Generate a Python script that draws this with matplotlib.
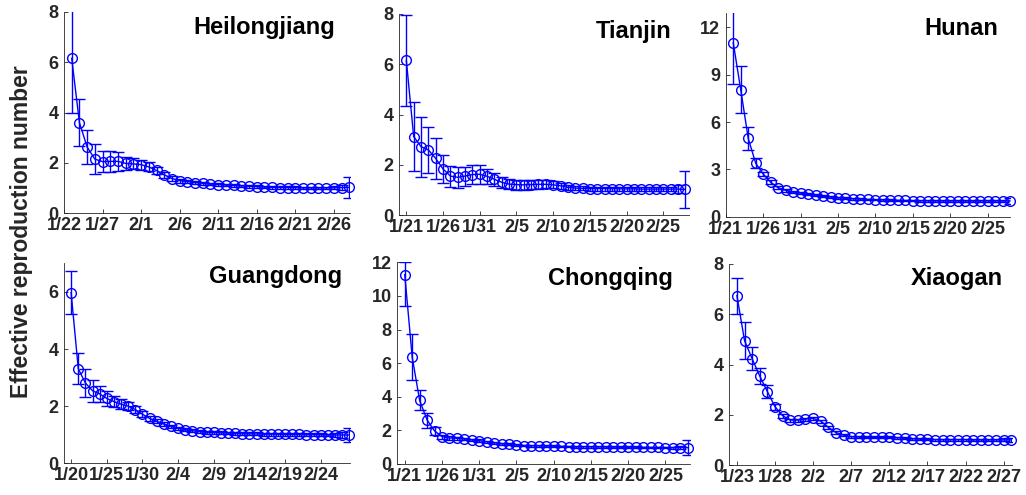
"""
六省市有效再生数 Rt 折线图（带误差棒）
"""
import numpy as np
import matplotlib
matplotlib.use('Agg')
import matplotlib.pyplot as plt

plt.rcParams['font.family'] = ['Liberation Sans', 'DejaVu Sans']
plt.rcParams['font.weight'] = 'bold'

# ====================== 1. 数据 ======================
# 黑龙江 1/23 起
hlj_r = [6.15, 3.60, 2.63, 2.15, 2.05, 2.06, 2.06, 1.98, 1.96, 1.93,
         1.84, 1.70, 1.53, 1.38, 1.30, 1.26, 1.22, 1.19, 1.16, 1.14,
         1.12, 1.11, 1.09, 1.07, 1.06, 1.04, 1.03, 1.02, 1.02, 1.02,
         1.01, 1.01, 1.01, 1.01, 1.01, 1.02, 1.03]
hlj_err = [2.15, 0.94, 0.66, 0.60, 0.43, 0.42, 0.38, 0.25, 0.22, 0.20,
           0.18, 0.15, 0.12, 0.10, 0.08, 0.07, 0.06, 0.06, 0.05, 0.05,
           0.05, 0.05, 0.05, 0.05, 0.05, 0.05, 0.05, 0.05, 0.05, 0.05,
           0.05, 0.05, 0.05, 0.05, 0.06, 0.10, 0.42]
hlj_ticks = ['1/22', '1/27', '2/1', '2/6', '2/11', '2/16', '2/21', '2/26']

# 天津 1/21 起
tj_r = [6.15, 3.12, 2.72, 2.59, 2.25, 1.83, 1.55, 1.50, 1.55, 1.61,
        1.62, 1.54, 1.42, 1.30, 1.23, 1.21, 1.20, 1.21, 1.22, 1.22,
        1.20, 1.16, 1.10, 1.07, 1.06, 1.05, 1.05, 1.05, 1.05, 1.04,
        1.04, 1.04, 1.03, 1.03, 1.03, 1.03, 1.03, 1.03, 1.02]
tj_err = [1.80, 1.38, 1.20, 0.90, 0.80, 0.57, 0.42, 0.42, 0.38, 0.38,
          0.37, 0.30, 0.25, 0.22, 0.20, 0.20, 0.19, 0.18, 0.17, 0.16,
          0.14, 0.12, 0.10, 0.09, 0.08, 0.08, 0.08, 0.08, 0.08, 0.08,
          0.08, 0.08, 0.08, 0.08, 0.08, 0.08, 0.08, 0.15, 0.75]
tj_ticks = ['1/21', '1/26', '1/31', '2/5', '2/10', '2/15', '2/20', '2/25']

# 湖南 1/22 起
hn_r = [11.02, 8.05, 4.96, 3.39, 2.71, 2.18, 1.84, 1.67, 1.57, 1.50,
        1.42, 1.36, 1.29, 1.25, 1.21, 1.17, 1.14, 1.12, 1.10, 1.08,
        1.07, 1.05, 1.04, 1.03, 1.02, 1.01, 1.01, 1.00, 1.00, 1.00,
        1.00, 1.00, 1.00, 1.00, 1.00, 1.00, 1.00, 1.00]
hn_err = [2.60, 1.50, 0.76, 0.32, 0.15, 0.12, 0.10, 0.09, 0.08, 0.08,
          0.07, 0.07, 0.06, 0.06, 0.06, 0.05, 0.05, 0.05, 0.05, 0.05,
          0.05, 0.05, 0.05, 0.05, 0.05, 0.05, 0.05, 0.05, 0.05, 0.05,
          0.05, 0.05, 0.05, 0.05, 0.05, 0.06, 0.08, 0.20]
hn_ticks = ['1/21', '1/26', '1/31', '2/5', '2/10', '2/15', '2/20', '2/25']

# 广东 1/20 起
gd_r = [5.97, 3.31, 2.81, 2.54, 2.43, 2.27, 2.16, 2.07, 2.00, 1.88,
        1.72, 1.57, 1.47, 1.37, 1.30, 1.23, 1.17, 1.14, 1.11, 1.08,
        1.08, 1.07, 1.06, 1.05, 1.04, 1.03, 1.03, 1.02, 1.02, 1.02,
        1.01, 1.01, 1.01, 1.00, 1.00, 1.00, 0.99, 0.99, 0.99, 0.99]
gd_err = [0.76, 0.55, 0.50, 0.38, 0.28, 0.25, 0.19, 0.17, 0.15, 0.12,
          0.10, 0.08, 0.07, 0.06, 0.05, 0.05, 0.05, 0.05, 0.05, 0.05,
          0.05, 0.05, 0.05, 0.05, 0.05, 0.05, 0.05, 0.05, 0.05, 0.05,
          0.05, 0.05, 0.05, 0.05, 0.05, 0.05, 0.05, 0.06, 0.10, 0.25]
gd_ticks = ['1/20', '1/25', '1/30', '2/4', '2/9', '2/14', '2/19', '2/24']

# 重庆 1/21 起（首点误差不对称）
cq_r = [11.27, 6.36, 3.78, 2.62, 1.97, 1.63, 1.55, 1.53, 1.49, 1.43,
        1.39, 1.33, 1.27, 1.21, 1.17, 1.13, 1.10, 1.09, 1.08, 1.07,
        1.06, 1.05, 1.04, 1.03, 1.03, 1.02, 1.02, 1.01, 1.01, 1.00,
        1.00, 1.00, 0.99, 0.99, 0.99, 0.98, 0.98, 0.98, 0.97]
cq_err_lo = [1.89, 1.36, 0.56, 0.45, 0.25, 0.12, 0.10, 0.09, 0.08, 0.07,
             0.07, 0.06, 0.06, 0.06, 0.05, 0.05, 0.05, 0.05, 0.05, 0.05,
             0.05, 0.05, 0.05, 0.05, 0.05, 0.05, 0.05, 0.05, 0.05, 0.05,
             0.05, 0.05, 0.05, 0.05, 0.05, 0.05, 0.06, 0.10, 0.45]
cq_err_hi = [0.76, 1.39, 0.63, 0.40, 0.25, 0.12, 0.10, 0.09, 0.08, 0.07,
             0.07, 0.06, 0.06, 0.06, 0.05, 0.05, 0.05, 0.05, 0.05, 0.05,
             0.05, 0.05, 0.05, 0.05, 0.05, 0.05, 0.05, 0.05, 0.05, 0.05,
             0.05, 0.05, 0.05, 0.05, 0.05, 0.05, 0.06, 0.10, 0.45]
cq_ticks = ['1/21', '1/26', '1/31', '2/5', '2/10', '2/15', '2/20', '2/25']

# 孝感 1/23 起
xg_r = [6.74, 4.95, 4.23, 3.54, 2.92, 2.32, 1.96, 1.79, 1.79, 1.83,
        1.86, 1.75, 1.50, 1.29, 1.19, 1.13, 1.11, 1.10, 1.10, 1.10,
        1.10, 1.09, 1.06, 1.05, 1.03, 1.02, 1.01, 1.01, 1.01, 1.01,
        1.01, 1.00, 1.00, 1.00, 1.00, 1.00, 1.00]
xg_err = [0.72, 0.73, 0.45, 0.32, 0.25, 0.12, 0.08, 0.06, 0.06, 0.06,
          0.06, 0.06, 0.05, 0.05, 0.04, 0.04, 0.04, 0.04, 0.04, 0.04,
          0.04, 0.04, 0.04, 0.04, 0.04, 0.04, 0.04, 0.04, 0.04, 0.04,
          0.04, 0.04, 0.04, 0.04, 0.05, 0.06, 0.08]
xg_ticks = ['1/23', '1/28', '2/2', '2/7', '2/12', '2/17', '2/22', '2/27']

# ====================== 2. 画布与子图配置 ======================
W, H = 1026, 495
BLUE = '#0000ff'
AX_COLOR = '#262626'

# start/tick0 为一年中的第几天（1/20 -> 20, 2/1 -> 32）
panels = [
    dict(name='Heilongjiang', r=hlj_r, lo=hlj_err, hi=hlj_err, start=23,
         labels=hlj_ticks, tick0=22, xlim=(22, 59.1), ylim=8, yticks=[0, 2, 4, 6, 8],
         box=(64, 11.7, 350, 213.3), tpos=(0.948, 0.889)),
    dict(name='Tianjin', r=tj_r, lo=tj_err, hi=tj_err, start=21,
         labels=tj_ticks, tick0=21, xlim=(20, 59.5), ylim=8, yticks=[0, 2, 4, 6, 8],
         box=(399, 14, 689, 215), tpos=(0.941, 0.88)),
    dict(name='Hunan', r=hn_r, lo=hn_err, hi=hn_err, start=22,
         labels=hn_ticks, tick0=21, xlim=(21, 59), ylim=12.9, yticks=[0, 3, 6, 9, 12],
         box=(725.8, 13.3, 1010, 216.7), tpos=(0.958, 0.893)),
    dict(name='Guangdong', r=gd_r, lo=gd_err, hi=gd_err, start=20,
         labels=gd_ticks, tick0=20, xlim=(19, 59.1), ylim=7, yticks=[0, 2, 4, 6],
         box=(64, 263.3, 350, 463.3), tpos=(0.971, 0.9)),
    dict(name='Chongqing', r=cq_r, lo=cq_err_lo, hi=cq_err_hi, start=21,
         labels=cq_ticks, tick0=21, xlim=(20, 59.3), ylim=12, yticks=[0, 2, 4, 6, 8, 10, 12],
         box=(397.3, 262.3, 690, 464), tpos=(0.943, 0.887)),
    dict(name='Xiaogan', r=xg_r, lo=xg_err, hi=xg_err, start=23,
         labels=xg_ticks, tick0=23, xlim=(22, 59.1), ylim=8, yticks=[0, 2, 4, 6, 8],
         box=(729.3, 264, 1012, 465), tpos=(0.967, 0.895)),
]

fig = plt.figure(figsize=(W / 100, H / 100), dpi=100)

for p in panels:
    l, t, r_, b = p['box']
    ax = fig.add_axes([l / W, (H - b) / H, (r_ - l) / W, (b - t) / H])
    x = p['start'] + np.arange(len(p['r']))

    ax.errorbar(x, p['r'], yerr=[p['lo'], p['hi']], fmt='none', ecolor=BLUE,
                elinewidth=1.0, capsize=4, capthick=1.0)
    ax.plot(x, p['r'], '-o', color=BLUE, mfc='none', mec=BLUE, ms=7, mew=1.0,
            lw=1.0, clip_on=False, zorder=3)

    ax.set_xlim(*p['xlim'])
    ax.set_ylim(0, p['ylim'])
    ax.set_xticks(p['tick0'] + 5 * np.arange(len(p['labels'])))
    ax.set_xticklabels(p['labels'])
    ax.set_yticks(p['yticks'])

    for s in ['top', 'right']:
        ax.spines[s].set_visible(False)
    for s in ['left', 'bottom']:
        ax.spines[s].set_color(AX_COLOR)
        ax.spines[s].set_linewidth(0.6)
    ax.tick_params(direction='in', length=3, width=0.6, color=AX_COLOR,
                   labelcolor=AX_COLOR, labelsize=13)
    ax.tick_params(axis='x', pad=3)
    ax.tick_params(axis='y', pad=4)
    for lab in ax.get_xticklabels() + ax.get_yticklabels():
        lab.set_fontweight('bold')

    ax.text(p['tpos'][0], p['tpos'][1], p['name'], transform=ax.transAxes,
            ha='right', va='baseline', fontsize=17, fontweight='bold', color='black')

fig.text(0.0205, 0.533, 'Effective reproduction number', rotation=90,
         ha='center', va='center', fontsize=16.5, fontweight='bold', color=AX_COLOR)

fig.savefig('out.png', dpi=100)
plt.close(fig)
